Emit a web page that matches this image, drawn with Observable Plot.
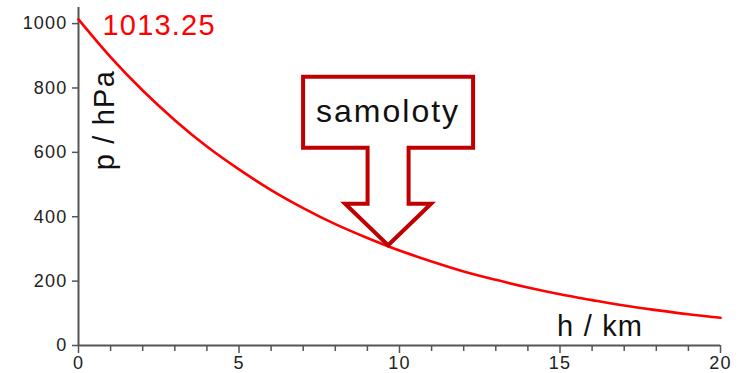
<!DOCTYPE html>
<html>
<head>
<meta charset="utf-8">
<script src="https://cdn.jsdelivr.net/npm/d3@7"></script>
<script src="https://cdn.jsdelivr.net/npm/@observablehq/plot@0.6"></script>
<style>
  html, body { margin: 0; padding: 0; background: #fff; }
  #chart svg { display: block; }
</style>
</head>
<body>
<div id="chart"></div>
<script>
// altitude (km) and pressure (hPa)
const heights = [0,1,2,3,4,5,6,7,8,9,10,11,12,13,14,15,16,17,18,19,20];
const pressures = [1013.25,896,792,700,618,547,483,427,377,334,295,261,230,204,180,159,141,124,110,97,86];
const yTicks = [0,200,400,600,800,1000];
const xMajorTicks = [0,5,10,15,20];
const xMinorTicks = [1,2,3,4,6,7,8,9,11,12,13,14,16,17,18,19];
const p0Label = ["1013.25"];
const axisTitles = [
  {h: 16.25, p: 28, text: "h / km", rotate: 0},
  {h: 1.1, p: 700, text: "p / hPa", rotate: -90}
];
const callout = [{h: 9.66, p: 310, text: "samoloty"}];

const curve = heights.map((h, i) => ({h, p: pressures[i]}));

const axisGray = "#555";
const textDark = "#222";
const arrowRed = "#c00000";

function calloutMark(index, scales, values, dimensions, context) {
  const sx = typeof scales.x === "function" ? scales.x : scales.scales.x.apply;
  const sy = typeof scales.y === "function" ? scales.y : scales.scales.y.apply;
  const g = d3.create("svg:g").attr("aria-label", "callout");
  for (const d of callout) {
    const X = sx(d.h), Y = sy(d.p);
    const pts = [
      [0, 0], [43, -41.5], [20.5, -41.5], [20.5, -97.5], [85, -97.5], [85, -168.5],
      [-85, -168.5], [-85, -97.5], [-20.5, -97.5], [-20.5, -41.5], [-43, -41.5]
    ].map(([dx, dy]) => [X + dx, Y + dy]);
    g.append("polygon")
      .attr("points", pts.map(p => p.join(",")).join(" "))
      .attr("fill", "#fff")
      .attr("stroke", arrowRed)
      .attr("stroke-width", 4)
      .attr("stroke-linejoin", "miter");
    g.append("text")
      .attr("x", X)
      .attr("y", Y - 123)
      .attr("text-anchor", "middle")
      .attr("font-size", 32)
      .attr("letter-spacing", 2)
      .attr("font-family", "Liberation Sans, Arial, sans-serif")
      .attr("fill", "#111")
      .text(d.text);
  }
  return g.node();
}

const chart = Plot.plot({
  width: 747,
  height: 373,
  marginLeft: 78,
  marginRight: 27,
  marginTop: 7,
  marginBottom: 28,
  style: {fontFamily: "Liberation Sans, Arial, sans-serif", fontSize: "18px", background: "#fff", overflow: "visible"},
  x: {domain: [0, 20]},
  y: {domain: [0, 1050]},
  marks: [
    Plot.axisY({ticks: yTicks, tickSize: 6, tickPadding: 5, tickFormat: d => String(d), stroke: axisGray, fill: textDark, strokeWidth: 1.5, label: null}),
    Plot.axisX({ticks: xMinorTicks, tickSize: 6, tickFormat: () => "", stroke: axisGray, strokeWidth: 1.5, label: null}),
    Plot.axisX({ticks: xMajorTicks, tickSize: 8, tickPadding: 3, tickFormat: d => String(d), stroke: axisGray, fill: textDark, strokeWidth: 1.5, label: null}),
    Plot.ruleX([0], {stroke: axisGray, strokeWidth: 2}),
    Plot.ruleY([0], {x1: 0, x2: 20, stroke: axisGray, strokeWidth: 2}),
    Plot.line(curve, {x: "h", y: "p", stroke: "#ff0000", strokeWidth: 2.6, curve: "monotone-x"}),
    Plot.text(p0Label, {x: 0, y: pressures[0], text: d => d, dx: 24, dy: 16, lineAnchor: "bottom", textAnchor: "start", fontSize: 29, fill: "#ff0000", ariaLabel: "p0-label"}),
    Plot.text(axisTitles, {x: "h", y: "p", text: "text", rotate: "rotate", lineAnchor: "bottom", textAnchor: "middle", fontSize: 29, fill: "#111", ariaLabel: "axis-titles"}),
    calloutMark
  ]
});
// slightly wider letter spacing to match the reference's wide glyphs
d3.select(chart).selectAll("text").each(function() {
  const el = d3.select(this);
  if (el.attr("letter-spacing") == null) el.attr("letter-spacing", 1.2);
});
document.getElementById("chart").appendChild(chart);
</script>
</body>
</html>
